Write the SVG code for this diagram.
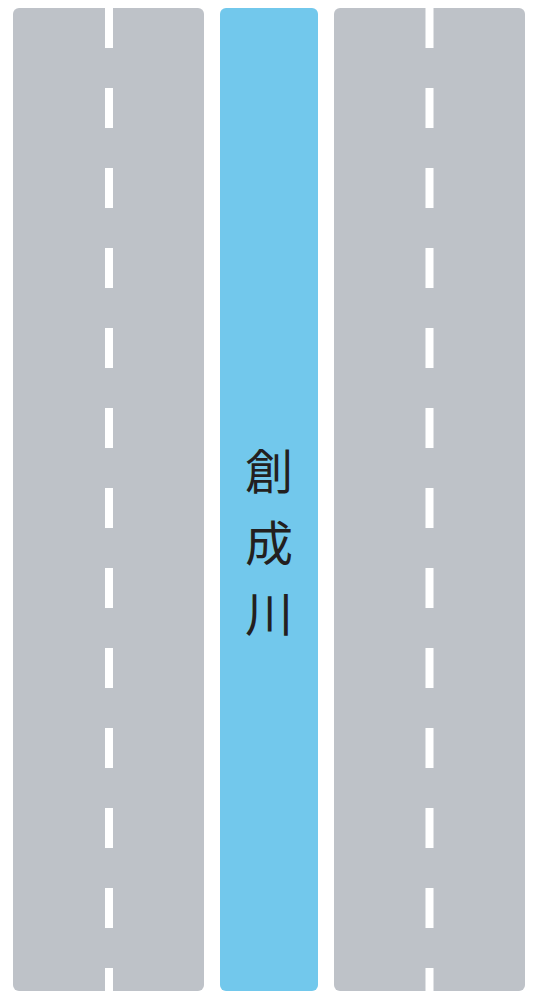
<svg xmlns="http://www.w3.org/2000/svg" width="542" height="992" viewBox="0 0 542 992">
<defs>
<style>
.road{fill:#bec2c8}
.river{fill:#72c8ec}
.dash{stroke:#ffffff;stroke-width:8;stroke-dasharray:40 40;fill:none}
.lbl{font-family:"Noto Sans CJK JP","Noto Sans CJK SC",sans-serif;font-size:48px;fill:#231f20;text-anchor:middle}
</style>
</defs>
<rect width="542" height="992" fill="#ffffff"/>
<g id="road-left">
<rect class="road" x="13" y="8" width="191" height="983" rx="6"/>
<line class="dash" x1="109" y1="8" x2="109" y2="991"/>
</g>
<g id="river">
<rect class="river" x="220" y="8" width="98" height="983" rx="6"/>
<text class="lbl" x="269" y="489">創</text>
<text class="lbl" x="269" y="561">成</text>
<text class="lbl" x="269" y="632">川</text>
</g>
<g id="road-right">
<rect class="road" x="334" y="8" width="191" height="983" rx="6"/>
<line class="dash" x1="429.5" y1="8" x2="429.5" y2="991"/>
</g>
<g id="connectors"/>
</svg>
